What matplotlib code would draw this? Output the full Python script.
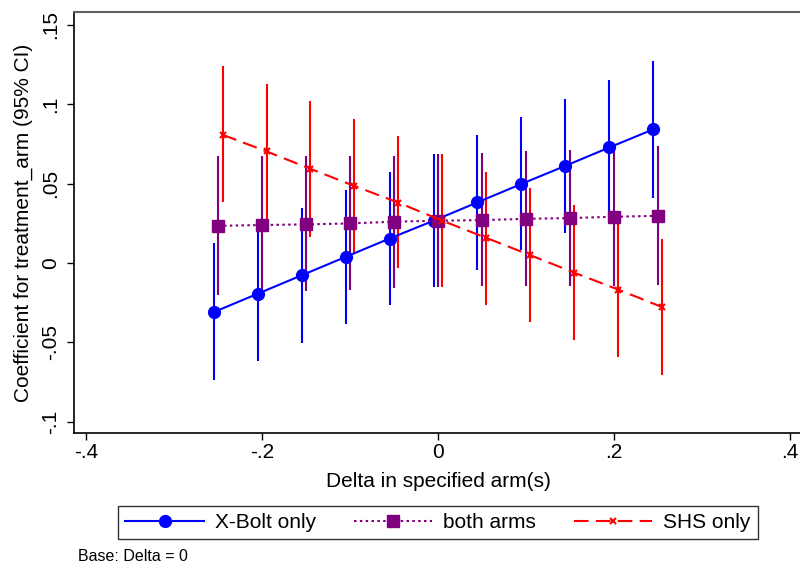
import numpy as np
import matplotlib
matplotlib.use("Agg")
import matplotlib.pyplot as plt
from matplotlib.ticker import FuncFormatter

plt.rcParams["font.family"] = ["Liberation Sans", "DejaVu Sans"]

# -------------------- data --------------------

delta = [-0.25, -0.2, -0.15, -0.1, -0.05, 0.0, 0.05, 0.1, 0.15, 0.2, 0.25]

xbolt_coef = [-0.031, -0.0194, -0.0078, 0.0038, 0.0154, 0.0266, 0.0382, 0.0498, 0.0612, 0.0728, 0.0842]
xbolt_lo = [-0.0738, -0.0620, -0.0504, -0.0384, -0.0268, -0.0152, -0.0042, 0.0080, 0.0186, 0.0314, 0.0411]
xbolt_hi = [0.0123, 0.0232, 0.0344, 0.0460, 0.0576, 0.0688, 0.0804, 0.0920, 0.1036, 0.1154, 0.1272]

both_coef = [0.0234, 0.0239, 0.0243, 0.0249, 0.0260, 0.0266, 0.0270, 0.0278, 0.0283, 0.0291, 0.0297]
both_lo = [-0.0204, -0.0195, -0.0180, -0.0168, -0.0155, -0.0152, -0.0147, -0.0146, -0.0146, -0.0146, -0.0141]
both_hi = [0.0677, 0.0677, 0.0677, 0.0677, 0.0677, 0.0688, 0.0692, 0.0703, 0.0709, 0.0720, 0.0734]

shs_coef = [0.0808, 0.0703, 0.0593, 0.0485, 0.0380, 0.0266, 0.0158, 0.0049, -0.0061, -0.0168, -0.0278]
shs_lo = [0.0382, 0.0280, 0.0165, 0.0060, -0.0035, -0.0152, -0.0263, -0.0373, -0.0485, -0.0595, -0.0706]
shs_hi = [0.1240, 0.1129, 0.1019, 0.0910, 0.0797, 0.0688, 0.0576, 0.0471, 0.0365, 0.0260, 0.0154]

offset = 0.005  # horizontal jitter between the three series

# -------------------- plot --------------------

FS = 15

fig = plt.figure(figsize=(8, 5.69), dpi=100)
ax = fig.add_axes([0.0925, 0.239, 0.9175, 0.740])

d = np.array(delta)
series = [
    ("X-Bolt only", d - offset, xbolt_coef, xbolt_lo, xbolt_hi, "#0000ff", "-", "o", 8.5),
    ("both arms", d, both_coef, both_lo, both_hi, "#800080", (0, (1.2, 1.6)), "s", 8.5),
    ("SHS only", d + offset, shs_coef, shs_lo, shs_hi, "#ff0000", (0, (7, 3.5)), "x", 4.5),
]

# CI spikes first, then the connected point estimates on top
for name, x, c, lo, hi, col, ls, mk, ms in series:
    ax.vlines(x, lo, hi, color=col, lw=1.5, zorder=2)

handles = []
for name, x, c, lo, hi, col, ls, mk, ms in series:
    h, = ax.plot(x, c, color=col, ls=ls, lw=1.5, marker=mk, ms=ms,
                 mew=1.5 if mk == "x" else 1, mec=col, mfc=col, label=name, zorder=3)
    handles.append(h)

ax.set_xlim(-0.414, 0.421)
ax.set_ylim(-0.1072, 0.1582)
ax.set_xticks([-0.4, -0.2, 0, 0.2, 0.4])
ax.set_yticks([-0.1, -0.05, 0, 0.05, 0.1, 0.15])

def stata_fmt(v, pos):
    s = f"{v:.2f}".rstrip("0").rstrip(".")
    if s in ("-0", ""):
        s = "0"
    s = s.replace("0.", ".")
    return s

ax.xaxis.set_major_formatter(FuncFormatter(stata_fmt))
ax.yaxis.set_major_formatter(FuncFormatter(stata_fmt))
ax.tick_params(axis="both", direction="out", length=5, width=1, labelsize=FS, colors="black")
ax.tick_params(axis="x", pad=2)
ax.tick_params(axis="y", pad=5)
for lab in ax.get_yticklabels():
    lab.set_rotation(90)
    lab.set_va("center")

ax.spines["right"].set_visible(False)
ax.spines["top"].set_color("#606060")
ax.spines["top"].set_linewidth(1.5)
ax.spines["left"].set_linewidth(1.2)
ax.spines["bottom"].set_linewidth(1.2)

ax.set_xlabel("Delta in specified arm(s)", fontsize=FS, va="center")
ax.set_ylabel("Coefficient for treatment_arm (95% CI)", fontsize=FS, va="center")
ax.xaxis.set_label_coords(0.496, -0.1157)
ax.yaxis.set_label_coords(-0.0695, 0.5)

leg = fig.legend(handles=handles, loc="center", bbox_to_anchor=(0.5475, 0.0817),
                 ncol=3, frameon=True, fancybox=False, edgecolor="black",
                 fontsize=FS, handlelength=3.75, handletextpad=0.55,
                 columnspacing=1.8, borderpad=0.35)
leg.get_frame().set_linewidth(1.0)
fig.text(0.0975, 0.0215, "Base: Delta = 0", fontsize=11.5, va="center")

fig.savefig("out.png", dpi=100)
